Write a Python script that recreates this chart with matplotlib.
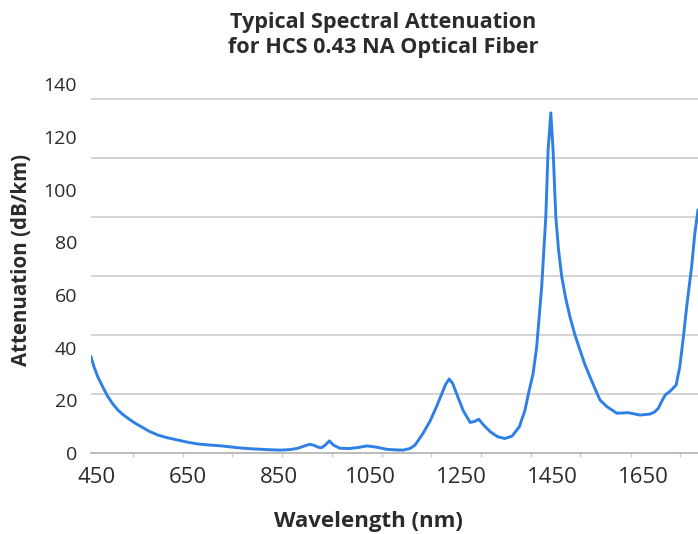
import matplotlib
matplotlib.use("Agg")
import matplotlib.pyplot as plt

# values
wavelength = [438, 445, 453, 464, 475, 486, 497, 508, 519, 533, 548, 565, 585, 605,
              629, 650, 673, 700, 724, 760, 790, 812, 835, 855, 875,
              892, 905, 918, 928, 936, 944, 952, 961, 970, 984, 1005, 1025, 1043,
              1065, 1087, 1105, 1123, 1138, 1149, 1165, 1182, 1196,
              1208, 1216, 1224, 1232, 1240, 1255, 1270, 1280, 1289, 1300, 1314,
              1330, 1346, 1362, 1378, 1390, 1398, 1408, 1416, 1427, 1436, 1441,
              1447, 1452, 1458, 1464, 1471, 1480, 1489, 1500, 1511, 1522, 1533,
              1545, 1555, 1570, 1592, 1617, 1643, 1665, 1675, 1683, 1691, 1698,
              1709, 1722, 1730, 1738, 1746, 1756, 1763, 1770]
attenuation = [36.5, 32.5, 28.9, 25.0, 21.4, 18.6, 16.3, 14.6, 13.2, 11.5, 10.0, 8.3,
               6.8, 5.8, 4.9, 4.1, 3.4, 3.0, 2.7, 2.0, 1.6, 1.4, 1.2, 1.1, 1.3,
               1.8, 2.6, 3.3, 2.9, 2.2, 2.0, 3.0, 4.6, 3.0, 1.8, 1.7, 2.1, 2.7,
               2.2, 1.4, 1.2, 1.1, 1.7, 3.0, 7.0, 12.1, 17.5,
               22.6, 26.0, 28.1, 26.3, 22.6, 16.0, 11.6, 12.0, 12.8, 10.5, 8.1,
               6.2, 5.5, 6.4, 10.0, 16.0, 22.6, 30.0, 40.3, 63.1, 89.6, 114.9,
               129.1, 114.9, 89.6, 77.0, 66.9, 58.5, 51.7, 44.8, 39.1, 33.5, 28.9,
               24.0, 20.1, 17.6, 15.1, 15.3, 14.4, 14.8, 15.6, 17.0, 19.8, 22.0,
               23.5, 25.8, 32.7, 44.1, 56.8, 70.7, 83.3, 92.2]

x_ticks = [450, 650, 850, 1050, 1250, 1450, 1650]
y_ticks = [0, 20, 40, 60, 80, 100, 120, 140]
# the horizontal guide lines of the original do not sit on the labelled values
grid_levels = [22.4, 44.8, 67.1, 89.5, 111.9, 134.3]
minor_x = [530, 639, 748, 858, 967, 1076, 1185, 1294, 1403, 1512, 1622, 1731]

font = "Open Sans"
txt = "#2b2b2b"

fig = plt.figure(figsize=(6.98, 5.34), dpi=100)
ax = fig.add_axes([91/698, 81/534, 607/698, 382/534])

for g in grid_levels:
    ax.axhline(g, color="#c9c9c9", linewidth=1.1, zorder=1)

ax.plot(wavelength, attenuation, color="#2f80e4", linewidth=2.1, zorder=3,
        solid_joinstyle="round")

ax.set_xlim(438, 1770)
ax.set_ylim(0, 145)

for s in ["top", "right", "left"]:
    ax.spines[s].set_visible(False)
ax.spines["bottom"].set_color("#b5b5b5")
ax.spines["bottom"].set_linewidth(1.3)

ax.set_xticks(x_ticks)
ax.set_xticklabels([str(v) for v in x_ticks], fontsize=16, family=font, color=txt)
ax.set_xticks(minor_x, minor=True)
ax.set_yticks(y_ticks)
ax.set_yticklabels([str(v) for v in y_ticks], fontsize=14, family=font, color=txt)
ax.tick_params(axis="x", which="major", length=0, pad=10)
ax.tick_params(axis="x", which="minor", length=3, color="#cccccc", width=1)
ax.tick_params(axis="y", length=0, pad=10)

fig.text(368/698, 1 - 522/534, "Wavelength (nm)", ha="center", va="center",
         fontsize=16, fontweight="bold", family=font, color=txt)
fig.text(22/698, 1 - 260/534, "Attenuation (dB/km)", ha="center", va="center",
         rotation=90, fontsize=14.8, fontweight="bold", family=font, color=txt)
fig.text(383/698, 1 - 35/534, "Typical Spectral Attenuation\nfor HCS 0.43 NA Optical Fiber",
         ha="center", va="center", fontsize=15.6, fontweight="bold", family=font,
         color=txt, linespacing=1.25)

fig.savefig("out.png", dpi=100)
